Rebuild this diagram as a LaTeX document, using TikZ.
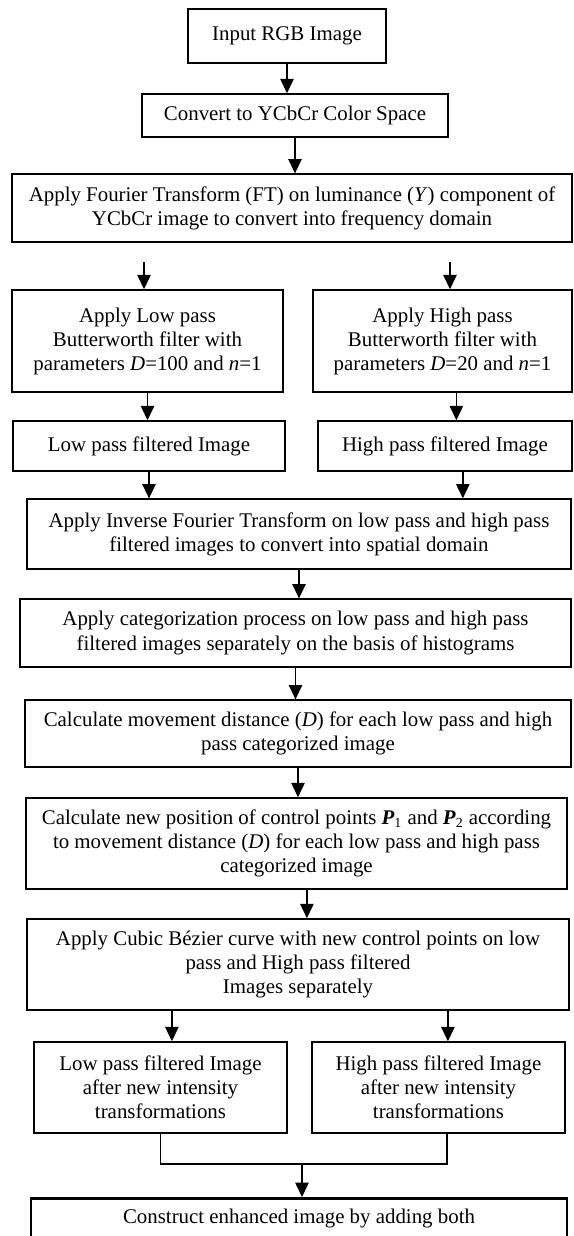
\documentclass[tikz,border=0pt]{standalone}
\usepackage{fontspec}
\setmainfont{Liberation Serif}
\usetikzlibrary{arrows.meta}

\begin{document}
\begin{tikzpicture}[x=0.0202cm, y=-0.0202cm,
    every node/.style={font=\fontsize{12}{13.8}\selectfont},
    box/.style={draw, line width=0.85pt, align=center, inner sep=2pt},
    thickbox/.style={box, line width=1.6pt},
    arr/.style={-{Triangle[length=2.9mm, width=2.7mm]}, line width=0.85pt}]
    % Flow chart: Fourier split into low / high pass, Bezier curve, merge.
    % Coordinates in pixels of the page, y grows downwards
    %   top chain at x=287..299, two columns at x=147 and x=442
    %   last box runs past the bottom edge of the page
    \useasboundingbox (0,0) rectangle (574,1236);
    \node[thickbox, minimum width=4.00cm, minimum height=1.09cm] (input) at (287,36)
          {Input RGB Image};
    \node[box, minimum width=6.18cm, minimum height=0.87cm] (ycbcr) at (295,115.5)
          {Convert to YCbCr Color Space};
    \node[box, minimum width=11.31cm, minimum height=1.37cm] (ft) at (292,208)
          {Apply Fourier Transform (FT) on luminance (\textit{Y}) component of\\
           YCbCr image to convert into frequency domain};
    \node[box, minimum width=5.47cm, minimum height=2.06cm] (lowbw) at (147.5,341)
          {Apply Low pass\\ Butterworth filter with\\ parameters \textit{D}=100 and \textit{n}=1};
    \node[box, minimum width=5.23cm, minimum height=2.06cm] (highbw) at (442.5,341)
          {Apply High pass\\ Butterworth filter with\\ parameters \textit{D}=20 and \textit{n}=1};
    \node[box, minimum width=5.49cm, minimum height=1.01cm] (lowimg) at (149,446)
          {Low pass filtered Image};
    \node[box, minimum width=5.13cm, minimum height=1.01cm] (highimg) at (445,446)
          {High pass filtered Image};
    \node[box, minimum width=10.99cm, minimum height=1.41cm] (ift) at (299,534)
          {Apply Inverse Fourier Transform on low pass and high pass\\
           filtered images to convert into spatial domain};
    \node[box, minimum width=11.13cm, minimum height=1.37cm] (categ) at (295.5,633)
          {Apply categorization process on low pass and high pass\\
           filtered images separately on the basis of histograms};
    \node[box, minimum width=11.03cm, minimum height=1.35cm] (move) at (298,733.5)
          {Calculate movement distance (\textit{D}) for each low pass and high\\
           pass categorized image};
    \node[box, minimum width=10.93cm, minimum height=1.84cm] (ctrl) at (296.5,843.5)
          {Calculate new position of control points \textbf{\textit{P}}\textsubscript{1}
           and \textbf{\textit{P}}\textsubscript{2} according\\
           to movement distance (\textit{D}) for each low pass and high pass\\
           categorized image};
    \node[box, minimum width=10.95cm, minimum height=1.84cm] (bezier) at (298,964.5)
          {Apply Cubic Bézier curve with new control points on low\\
           pass and High pass filtered\\ Images separately};
    \node[box, minimum width=5.11cm, minimum height=1.84cm] (lowout) at (160.5,1087.5)
          {Low pass filtered Image\\ after new intensity\\ transformations};
    \node[box, minimum width=5.11cm, minimum height=1.84cm] (highout) at (438.5,1087.5)
          {High pass filtered Image\\ after new intensity\\ transformations};
    \node[thickbox, anchor=north, minimum width=10.83cm, inner ysep=6pt,
          text depth=1.2cm] (enh) at (299,1197)
          {Construct enhanced image by adding both};
    % connectors
    \coordinate (lowin) at (144,262);
    \coordinate (highin) at (450,262);
    \coordinate (merge) at (302,1164);
    \draw[arr] (input.south) -- (input.south |- ycbcr.north);
    \draw[arr] (ycbcr.south) -- (ycbcr.south |- ft.north);
    \draw[arr] (lowin) -- (lowin |- lowbw.north);
    \draw[arr] (highin) -- (highin |- highbw.north);
    \draw[arr] (lowbw.south) -- (lowbw.south |- lowimg.north);
    \draw[arr] ([xshift=0.28cm]highbw.south) -- ([xshift=0.28cm]highbw.south |- highimg.north);
    \draw[arr] (lowimg.south) -- (lowimg.south |- ift.north);
    \draw[arr] ([xshift=0.36cm]highimg.south) -- ([xshift=0.36cm]highimg.south |- ift.north);
    \draw[arr] (ift.south) -- (ift.south |- categ.north);
    \draw[arr] (categ.south) -- (categ.south |- move.north);
    \draw[arr] (move.south) -- (move.south |- ctrl.north);
    \draw[arr] ([xshift=0.21cm]ctrl.south) -- ([xshift=0.21cm]ctrl.south |- bezier.north);
    \draw[arr] ([xshift=0.23cm]lowout.north |- bezier.south) -- ([xshift=0.23cm]lowout.north);
    \draw[arr] ([xshift=0.19cm]highout.north |- bezier.south) -- ([xshift=0.19cm]highout.north);
    \draw[line width=0.85pt] (lowout.south) |- (merge) -| ([xshift=0.17cm]highout.south);
    \draw[arr] (merge) -- (merge |- enh.north);
\end{tikzpicture}
\end{document}
